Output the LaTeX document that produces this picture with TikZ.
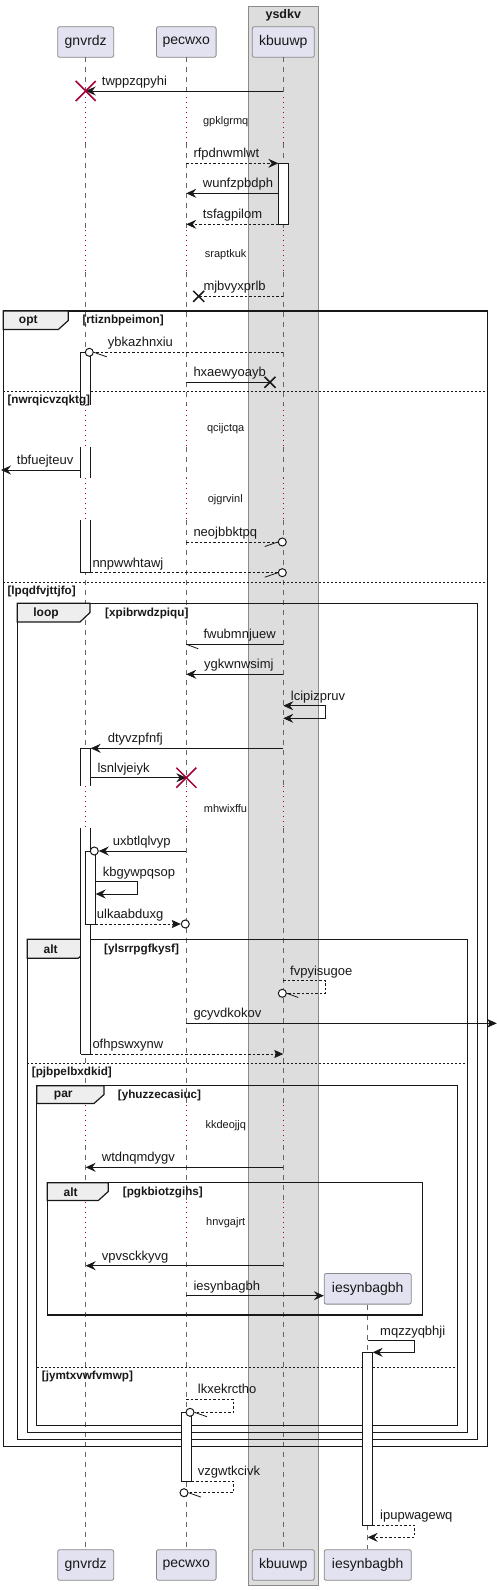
\documentclass[tikz,border=0pt]{standalone}
\usepackage{fontspec}
\setmainfont{Liberation Sans}
\usetikzlibrary{arrows.meta,calc}
\definecolor{crim}{HTML}{A80036}
\definecolor{pfill}{HTML}{E2E2F0}
\definecolor{pdraw}{HTML}{888888}
\definecolor{boxfill}{HTML}{DDDDDD}
\definecolor{boxdraw}{HTML}{8A8A8A}
\definecolor{tabfill}{HTML}{EEEEEE}
\definecolor{ink}{HTML}{181818}
\definecolor{lifec}{HTML}{666666}
\tikzset{
  partbox/.style={draw=pdraw, line width=0.8pt, fill=pfill, rounded corners=2pt, minimum height=30.6pt, inner sep=0pt, font=\fontsize{14}{16}\selectfont, text=ink},
  lifeline/.style={draw=lifec, line width=0.6pt, dash pattern=on 5pt off 5pt},
  delayline/.style={draw=crim, line width=0.8pt, dash pattern=on 0.8pt off 4.2pt},
  msg/.style={draw=ink, line width=0.8pt},
  dmsg/.style={msg, dash pattern=on 2.5pt off 2pt},
  arr/.style={-{Stealth[length=10pt,width=9pt,inset=3.5pt]}},
  arrboth/.style={{Stealth[length=10pt,width=9pt,inset=3.5pt]}-{Stealth[length=10pt,width=9pt,inset=3.5pt]}},
  arrtri/.style={-{Stealth[length=9pt,width=8pt,inset=1.5pt]}},
  mlab/.style={anchor=base west, inner sep=0pt, font=\fontsize{13}{15}\selectfont, text=ink},
  dlab/.style={inner sep=0pt, font=\fontsize{11}{13}\selectfont, text=ink},
  fbox/.style={draw=ink, line width=1.5pt},
  tabs/.style={draw=ink, line width=1.2pt, fill=tabfill},
  kw/.style={inner sep=0pt, font=\bfseries\fontsize{12}{14}\selectfont, text=ink},
  cond/.style={anchor=west, inner sep=0pt, font=\bfseries\fontsize{11.7}{14}\selectfont, text=ink},
  sepline/.style={draw=ink, line width=0.7pt, dash pattern=on 2pt off 2pt},
  actside/.style={draw=ink, line width=0.8pt},
  circend/.style={circle, draw=ink, line width=1pt, fill=white, minimum size=8pt, inner sep=0pt},
  killx/.style={draw=crim, line width=1.5pt},
  lostx/.style={draw=ink, line width=1.5pt},
  halfst/.style={draw=ink, line width=0.8pt},
}
\begin{document}
\begin{tikzpicture}[x=1pt,y=-1pt]
\useasboundingbox (0,0) rectangle (497,1590);
% box
\draw[fill=boxfill, draw=boxdraw, line width=0.9pt] (248.3,6) rectangle (318.3,1585);
\node[inner sep=0pt, font=\bfseries\fontsize{12.5}{14}\selectfont, text=ink] (boxtitle) at (283.3,15.5) {ysdkv};
% participants
\node[partbox, minimum width=56pt] (gtop) at (85.7,42) {gnvrdz};
\node[partbox, minimum width=59.6pt] (ptop) at (186.3,42) {pecwxo};
\node[partbox, minimum width=62pt] (ktop) at (283.3,42) {kbuuwp};
\node[partbox, minimum width=56pt] (gbot) at (85.7,1565) {gnvrdz};
\node[partbox, minimum width=59.6pt] (pbot) at (186.3,1565) {pecwxo};
\node[partbox, minimum width=62pt] (kbot) at (283.3,1565) {kbuuwp};
\node[partbox, minimum width=87pt] (ibot) at (367.7,1565) {iesynbagbh};
% lifelines
\foreach \n in {g,p,k}{
  \foreach \a/\b in {57.3/97,143/230,272/405,446.7/478.3,520/786,828.3/1105,1145/1201.7,1241.7/1549.3}{
    \draw[lifeline] (\n top.south |- 0,\a) -- (\n top.south |- 0,\b);
  }
  \foreach \a/\b in {97/143,230/272,405/446.7,478.3/520,786/828.3,1105/1145,1201.7/1241.7}{
    \draw[delayline] (\n top.south |- 0,\a) -- (\n top.south |- 0,\b);
  }
}
\node[partbox, minimum width=87pt] (itop) at (367.7,1288.8) {iesynbagbh};
\draw[lifeline] (itop.south) -- (ibot.north);
% delay labels
\node[dlab] (d1) at (225.7,122) {gpklgrmq};
\node[dlab] (d2) at (225.7,254.3) {sraptkuk};
\node[dlab] (d3) at (225.7,428.3) {qcijctqa};
\node[dlab] (d4) at (225.3,500) {ojgrvinl};
\node[dlab] (d5) at (225.5,808.3) {mhwixffu};
\node[dlab] (d6) at (225.7,1125.7) {kkdeojjq};
\node[dlab] (d7) at (225.7,1222.3) {hnvgajrt};
% frames
\draw[fbox] (3.3,311) rectangle (487.7,1446.7);
\draw[tabs] (3.3,311) -- (68.3,311) -- (68.3,320.5) -- (58.3,329.5) -- (3.3,329.5) -- cycle;
\node[kw] (kwopt) at (28.3,320.5) {opt};
\node[cond] (c1) at (82.3,320.5) {[rtiznbpeimon]};
\draw[sepline] (3.3,391.3) -- (487.7,391.3);
\draw[sepline] (3.3,582.3) -- (487.7,582.3);
\node[cond] (c3) at (7.3,591) {[lpqdfvjttjfo]};

\draw[fbox] (17.3,603.3) rectangle (477.7,1439.3);
\draw[tabs] (17.3,603.3) -- (90,603.3) -- (90,612.5) -- (80,622) -- (17.3,622) -- cycle;
\node[kw] (kwloop) at (46,613.5) {loop};
\node[cond] (c4) at (105,613.5) {[xpibrwdzpiqu]};

\draw[fbox] (27.3,939.3) rectangle (467.7,1432.7);
\draw[tabs] (27.3,939.3) -- (88.3,939.3) -- (88.3,949) -- (78.3,958.3) -- (27.3,958.3) -- cycle;
\node[kw] (kwalt1) at (50.7,949.5) {alt};
\node[cond] (c5) at (104,949.5) {[ylsrrpgfkysf]};
\draw[sepline] (27.3,1063.3) -- (467.7,1063.3);
\node[cond] (c6) at (31.7,1072) {[pjbpelbxdkid]};

\draw[fbox] (36.7,1085.7) rectangle (457.7,1425.7);
\draw[tabs] (36.7,1085.7) -- (104,1085.7) -- (104,1094.5) -- (94,1103.5) -- (36.7,1103.5) -- cycle;
\node[kw] (kwpar) at (63.3,1095.5) {par};
\node[cond] (c7) at (117.7,1095.5) {[yhuzzecasiuc]};
\draw[sepline] (36.7,1367.3) -- (457.7,1367.3);
\node[cond] (c8) at (41.7,1376) {[jymtxvwfvmwp]};

\draw[fbox] (47.3,1182.7) rectangle (422.3,1315);
\draw[tabs] (47.3,1182.7) -- (108.3,1182.7) -- (108.3,1191.5) -- (98.3,1200.5) -- (47.3,1200.5) -- cycle;
\node[kw] (kwalt2) at (70.7,1192) {alt};
\node[cond] (c9) at (122.7,1192) {[pgkbiotzgihs]};

% activations
% kbuuwp
\draw[actside, fill=white] (278.3,163.3) rectangle (288.3,224.3);
% gnvrdz A1 with gaps
\foreach \a/\b in {352.3/405,446.7/478.3,520/572.7}{
  \fill[white] (80.7,\a) rectangle (90.7,\b);
  \draw[actside] (80.7,\a) -- (80.7,\b) (90.7,\a) -- (90.7,\b);
}
\draw[actside] (80.7,352.3) -- (90.7,352.3) (80.7,572.7) -- (90.7,572.7);
% gnvrdz A2
\foreach \a/\b in {748.3/786,828.3/1054}{
  \fill[white] (80.7,\a) rectangle (90.7,\b);
  \draw[actside] (80.7,\a) -- (80.7,\b) (90.7,\a) -- (90.7,\b);
}
\draw[actside] (80.7,748.3) -- (90.7,748.3) (80.7,1054) -- (90.7,1054);
% gnvrdz A3
\draw[actside, fill=white] (85.7,851) rectangle (95.7,924);
% iesynbagbh
\draw[actside, fill=white] (362.7,1352.3) rectangle (372.7,1525);
% pecwxo
\draw[actside, fill=white] (181.7,1412.3) rectangle (191.7,1481);
% condition drawn over activation
\node[cond] (c2) at (7.3,400.5) {[nwrqicvzqktg]};

% messages
% M1
\draw[msg, arr] (ktop |- 0,91) -- (gtop |- 0,91);
\draw[killx] ($(gtop |- 0,91)+(-10,-10)$) -- ($(gtop |- 0,91)+(10,10)$) ($(gtop |- 0,91)+(-10,10)$) -- ($(gtop |- 0,91)+(10,-10)$);
\node[mlab] (l1) at (101.7,85.5) {twppzqpyhi};
% M2
\draw[dmsg, arr] (ptop |- 0,163.3) -- ($(ktop |- 0,163.3)+(-5,0)$);
\node[mlab] (l2) at (193.3,157.8) {rfpdnwmlwt};
% M3
\draw[msg, arr] ($(ktop |- 0,193.3)+(-5,0)$) -- (ptop |- 0,193.3);
\node[mlab] (l3) at (202.7,187.8) {wunfzpbdph};
% M4
\draw[dmsg, arr] ($(ktop |- 0,224.3)+(-5,0)$) -- (ptop |- 0,224.3);
\node[mlab] (l4) at (202.7,218.8) {tsfagpilom};
% M5 lost
\coordinate (x5) at (198.7,296.3);
\draw[dmsg] (ktop |- 0,296.3) -- (x5);
\draw[lostx] ($(x5)+(-5.5,-5.5)$) -- ($(x5)+(5.5,5.5)$) ($(x5)+(-5.5,5.5)$) -- ($(x5)+(5.5,-5.5)$);
\node[mlab] (l5) at (203.3,290.8) {mjbvyxprlb};
% M6
\node[circend] (o6) at (89.3,352.3) {};
\draw[dmsg] (ktop |- 0,352.3) -- (o6.east);
\draw[halfst] (o6.east) -- ++(13,4.5);
\node[mlab] (l6) at (107.7,346.8) {ybkazhnxiu};
% M7 lost
\coordinate (x7) at (270,382.3);
\draw[msg] (ptop |- 0,382.3) -- (x7);
\draw[lostx] ($(x7)+(-5.5,-5.5)$) -- ($(x7)+(5.5,5.5)$) ($(x7)+(-5.5,5.5)$) -- ($(x7)+(5.5,-5.5)$);
\node[mlab] (l7) at (193.3,376.8) {hxaewyoayb};
% M8
\coordinate (left8) at (1,470);
\draw[msg, arr] (80.7,470) -- (left8);
\node[mlab] (l8) at (16.7,464.5) {tbfuejteuv};
% M9
\node[circend] (o9) at (282.3,542) {};
\draw[dmsg] (ptop |- 0,542) -- (o9.west);
\draw[halfst] (o9.west) -- ++(-13,4.5);
\node[mlab] (l9) at (193.3,536.5) {neojbbktpq};
% M10
\node[circend] (o10) at (282.3,572.7) {};
\draw[dmsg] (90.7,572.7) -- (o10.west);
\draw[halfst] (o10.west) -- ++(-13,4.5);
\node[mlab] (l10) at (92.3,567.2) {nnpwwhtawj};
% M11
\draw[msg] (ktop |- 0,644.3) -- (ptop |- 0,644.3);
\draw[halfst] (ptop |- 0,644.3) -- ++(12,4.5);
\node[mlab] (l11) at (203.3,638.8) {fwubmnjuew};
% M12
\draw[msg, arr] (ktop |- 0,674.3) -- (ptop |- 0,674.3);
\node[mlab] (l12) at (204,668.8) {ygkwnwsimj};
% M13
\draw[msg, arrboth] (ktop |- 0,705.7) -- (325.7,705.7) -- (325.7,718.3) -- (ktop |- 0,718.3);
\node[mlab] (l13) at (290.7,700.2) {lcipizpruv};
% M14
\draw[msg, arr] (ktop |- 0,748.3) -- (90.7,748.3);
\node[mlab] (l14) at (107.7,742.8) {dtyvzpfnfj};
% M15
\draw[msg, arr] (90.7,777.7) -- (ptop |- 0,777.7);
\draw[killx] ($(ptop |- 0,777.7)+(-10,-10)$) -- ($(ptop |- 0,777.7)+(10,10)$) ($(ptop |- 0,777.7)+(-10,10)$) -- ($(ptop |- 0,777.7)+(10,-10)$);
\node[mlab] (l15) at (97.3,772.2) {lsnlvjeiyk};
% M16
\node[circend] (o16) at (94.3,851) {};
\draw[msg, arr] (ptop |- 0,851) -- (o16.east);
\node[mlab] (l16) at (112.7,845.5) {uxbtlqlvyp};
% M17
\draw[msg, arr] (95.7,881.7) -- (137.3,881.7) -- (137.3,894) -- (95.7,894);
\node[mlab] (l17) at (102.7,876.2) {kbgywpqsop};
% M18
\node[circend] (o18) at (185.3,924) {};
\draw[dmsg, arrtri] (95.7,924) -- (o18.west);
\node[mlab] (l18) at (96.7,918.5) {ulkaabduxg};
% M19
\node[circend] (o19) at (282.3,993.3) {};
\draw[dmsg] (ktop |- 0,980.7) -- (325.7,980.7) -- (325.7,993.3) -- (o19.east);
\draw[halfst] (o19.east) -- ++(11.5,4.2);
\node[mlab] (l19) at (290,975.2) {fvpyisugoe};
% M20
\coordinate (right20) at (496.8,1023.3);
\draw[msg, arrtri] (ptop |- 0,1023.3) -- (right20);
\node[mlab] (l20) at (193.3,1017.8) {gcyvdkokov};
% M21
\draw[dmsg, arrtri] (90.7,1054) -- (ktop |- 0,1054);
\node[mlab] (l21) at (92.3,1048.5) {ofhpswxynw};
% M22
\draw[msg, arr] (ktop |- 0,1167.3) -- (gtop |- 0,1167.3);
\node[mlab] (l22) at (101.7,1161.8) {wtdnqmdygv};
% M23
\draw[msg, arr] (ktop |- 0,1265.7) -- (gtop |- 0,1265.7);
\node[mlab] (l23) at (101.7,1260.2) {vpvsckkyvg};
% M24
\draw[msg, arr] (ptop |- 0,1295.7) -- (itop.west |- 0,1295.7);
\node[mlab] (l24) at (193.3,1290.2) {iesynbagbh};
% M25
\draw[msg, arr] (itop |- 0,1340.7) -- (414.3,1340.7) -- (414.3,1352.3) -- (372.7,1352.3);
\node[mlab] (l25) at (380,1335.2) {mqzzyqbhji};
% M26
\node[circend] (o26) at (190,1412.3) {};
\draw[dmsg] (ptop |- 0,1399) -- (233.3,1399) -- (233.3,1412.3) -- (o26.east);
\draw[halfst] (o26.east) -- ++(12.5,4.4);
\node[mlab] (l26) at (197.7,1393.5) {lkxekrctho};
% M27
\node[circend] (o27) at (184,1492.7) {};
\draw[dmsg] (191.7,1481) -- (233.3,1481) -- (233.3,1492.7) -- (o27.east);
\draw[halfst] (o27.east) -- ++(12.5,4.4);
\node[mlab] (l27) at (197.7,1475.5) {vzgwtkcivk};
% M28
\draw[dmsg, arr] (372.7,1525) -- (414.3,1525) -- (414.3,1537.3) -- (itop |- 0,1537.3);
\node[mlab] (l28) at (380,1519.5) {ipupwagewq};
\end{tikzpicture}
\end{document}
